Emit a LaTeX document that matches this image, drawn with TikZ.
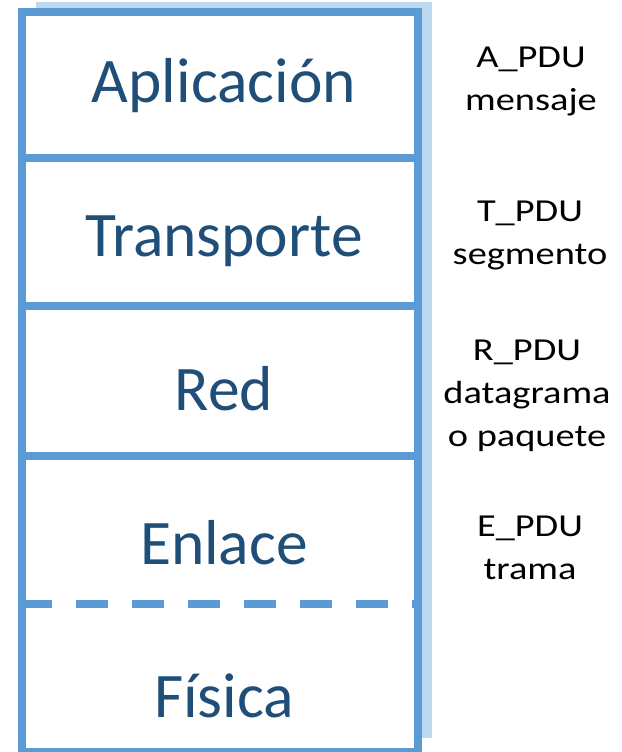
\documentclass[tikz,border=0pt]{standalone}
\usepackage{fontspec}
\setmainfont{Carlito}
\newfontfamily\pdufont[FakeStretch=1.2]{Carlito}
\definecolor{layerblue}{RGB}{91,155,213}
\definecolor{shadowblue}{RGB}{189,215,238}
\definecolor{titleblue}{RGB}{31,78,121}
\begin{document}
\begin{tikzpicture}[x=1pt, y=-1pt]
    % Define styles
    \tikzstyle{layer} = [anchor=base, inner sep=0pt, text=titleblue, font=\fontsize{63.5}{76}\selectfont]
    \tikzstyle{pdu} = [anchor=base, inner sep=0pt, align=center, font=\pdufont\fontsize{32}{43}\selectfont]
    \tikzstyle{border} = [draw=layerblue, line width=8pt]

    \useasboundingbox (0,0) rectangle (621,752);

    % Draw stack
    \fill [shadowblue] (36,2) rectangle (432,738);
    \fill [white] (18,8) rectangle (422,756);
    \draw [border] (22,158) -- (418,158);
    \draw [border] (22,306) -- (418,306);
    \draw [border] (22,456) -- (418,456);
    \draw [border, dash pattern=on 32pt off 24pt] (20,604) -- (414,604);
    \draw [border] (22,12) rectangle (418,752);

    % Place nodes (base = last line)
    \node [layer] (aplicacion) at (224,102) {Aplicación};
    \node [layer] (transporte) at (224,256) {Transporte};
    \node [layer] (red) at (224,410) {Red};
    \node [layer] (enlace) at (224,564) {Enlace};
    \node [layer] (fisica) at (224,717) {Física};

    \node [pdu] (apdu) at (531,110) {A\_PDU\\mensaje};
    \node [pdu] (tpdu) at (530,264) {T\_PDU\\segmento};
    \node [pdu] (rpdu) at (527,446) {R\_PDU\\datagrama\\o paquete};
    \node [pdu] (epdu) at (530,579) {E\_PDU\\trama};
\end{tikzpicture}
\end{document}
